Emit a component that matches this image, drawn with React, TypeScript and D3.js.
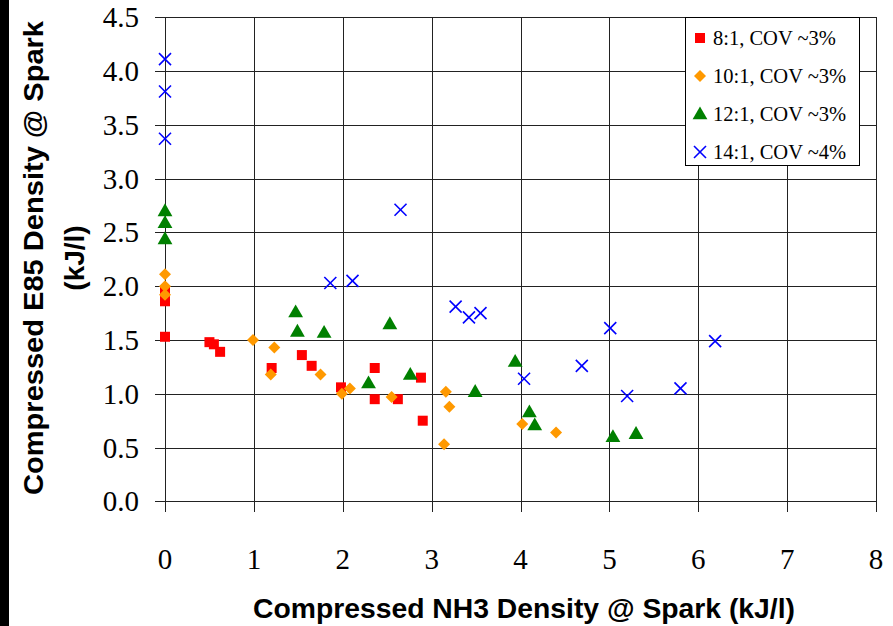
import React from "react";
import * as d3 from "d3";

const xTicks = [0, 1, 2, 3, 4, 5, 6, 7, 8];
const yTicks = [0, 0.5, 1, 1.5, 2, 2.5, 3, 3.5, 4, 4.5];

const s8x = [0, 0, 0, 0.5, 0.55, 0.62, 1.2, 1.54, 1.65, 1.98, 2.36, 2.36, 2.62, 2.88, 2.9];
const s8y = [1.53, 1.86, 1.95, 1.48, 1.46, 1.39, 1.24, 1.36, 1.26, 1.06, 1.24, 0.95, 0.95, 1.15, 0.75];

const s10x = [0, 0, 0, 0.99, 1.23, 1.19, 1.75, 1.99, 2.08, 2.55, 3.16, 3.2, 3.14, 4.02, 4.4];
const s10y = [2.11, 2.0, 1.92, 1.5, 1.43, 1.18, 1.18, 1.0, 1.05, 0.97, 1.02, 0.88, 0.53, 0.72, 0.64];

const s12x = [0, 0, 0, 1.47, 1.49, 1.79, 2.53, 2.29, 2.76, 3.49, 3.94, 4.1, 4.16, 5.04, 5.3];
const s12y = [2.7, 2.59, 2.44, 1.76, 1.58, 1.57, 1.65, 1.1, 1.18, 1.02, 1.3, 0.83, 0.71, 0.6, 0.63];

const s14x = [0, 0, 0, 2.65, 1.86, 2.11, 3.27, 3.42, 3.55, 5.01, 6.19, 4.69, 4.04, 5.2, 5.8];
const s14y = [4.11, 3.81, 3.37, 2.71, 2.03, 2.05, 1.81, 1.71, 1.75, 1.61, 1.49, 1.26, 1.14, 0.98, 1.05];

const legendLabels = ["8:1, COV ~3%", "10:1, COV ~3%", "12:1, COV ~3%", "14:1, COV ~4%"];

const x = d3.scaleLinear().domain([0, 8]).range([165, 876]);
const y = d3.scaleLinear().domain([0, 4.5]).range([501.4, 17.2]);

const sq = d3.symbol(d3.symbolSquare, 100)();
const dia = d3.symbol(d3.symbolSquare, 72)();
const tri = d3.symbol(d3.symbolTriangle, 95)();

function Marker({ kind, cx, cy }: { kind: number; cx: number; cy: number }) {
  if (kind === 0) return <path d={sq as string} transform={`translate(${cx},${cy})`} fill="#ff0000" />;
  if (kind === 1) return <path d={dia as string} transform={`translate(${cx},${cy}) rotate(45)`} fill="#ff9900" />;
  if (kind === 2) return <path d={tri as string} transform={`translate(${cx},${cy + 1})`} fill="#008000" />;
  const r = 6;
  return (
    <g stroke="#0000ff" strokeWidth={1.6}>
      <line x1={cx - r} y1={cy - r} x2={cx + r} y2={cy + r} />
      <line x1={cx - r} y1={cy + r} x2={cx + r} y2={cy - r} />
    </g>
  );
}

export default function App() {
  const series = [
    [s8x, s8y],
    [s10x, s10y],
    [s12x, s12y],
    [s14x, s14y],
  ];
  const serif = "'Liberation Serif', 'Times New Roman', serif";
  const sans = "'Liberation Sans', Arial, sans-serif";
  return (
    <svg width={893} height={626} style={{ position: "absolute", left: 0, top: 0, background: "#fff" }}>
      <rect x={0} y={0} width={893} height={626} fill="#fff" />
      <rect x={0} y={0} width={9} height={626} fill="#000" />
      {yTicks.map((t) => (
        <line key={"h" + t} x1={155} x2={876} y1={Math.round(y(t)) + 0.5} y2={Math.round(y(t)) + 0.5} stroke="#222" strokeWidth={1} />
      ))}
      {xTicks.map((t) => (
        <line key={"v" + t} x1={Math.round(x(t)) + 0.5} x2={Math.round(x(t)) + 0.5} y1={17} y2={512} stroke="#222" strokeWidth={1} />
      ))}
      {yTicks.map((t) => (
        <text key={"yl" + t} x={139} y={y(t) + 10} textAnchor="end" fontFamily={serif} fontSize={29} fill="#000">
          {t.toFixed(1)}
        </text>
      ))}
      {xTicks.map((t) => (
        <text key={"xl" + t} x={x(t)} y={569} textAnchor="middle" fontFamily={serif} fontSize={29} fill="#000">
          {t}
        </text>
      ))}
      {series.map(([xs, ys], k) =>
        xs.map((v, i) => <Marker key={k + "-" + i} kind={k} cx={x(v)} cy={y(ys[i])} />)
      )}
      <g>
        <rect x={685.5} y={17.5} width={174} height={148} fill="#fff" stroke="#000" strokeWidth={1} />
        {legendLabels.map((l, i) => {
          const cy = 38 + i * 38;
          return (
            <g key={l}>
              <Marker kind={i} cx={700} cy={cy} />
              <text x={713} y={cy + 7} fontFamily={serif} fontSize={20.5} fill="#000">
                {l}
              </text>
            </g>
          );
        })}
      </g>
      <text
        transform="translate(43,258) rotate(-90)"
        textAnchor="middle"
        fontFamily={sans}
        fontWeight="bold"
        fontSize={28}
        textLength={474}
        lengthAdjust="spacingAndGlyphs"
        fill="#000"
      >
        Compressed E85 Density @ Spark
      </text>
      <text
        transform="translate(84,258) rotate(-90)"
        textAnchor="middle"
        fontFamily={sans}
        fontWeight="bold"
        fontSize={28}
        fill="#000"
      >
        (kJ/l)
      </text>
      <text
        x={524}
        y={618}
        textAnchor="middle"
        fontFamily={sans}
        fontWeight="bold"
        fontSize={27}
        textLength={542}
        lengthAdjust="spacingAndGlyphs"
        fill="#000"
      >
        Compressed NH3 Density @ Spark (kJ/l)
      </text>
    </svg>
  );
}
